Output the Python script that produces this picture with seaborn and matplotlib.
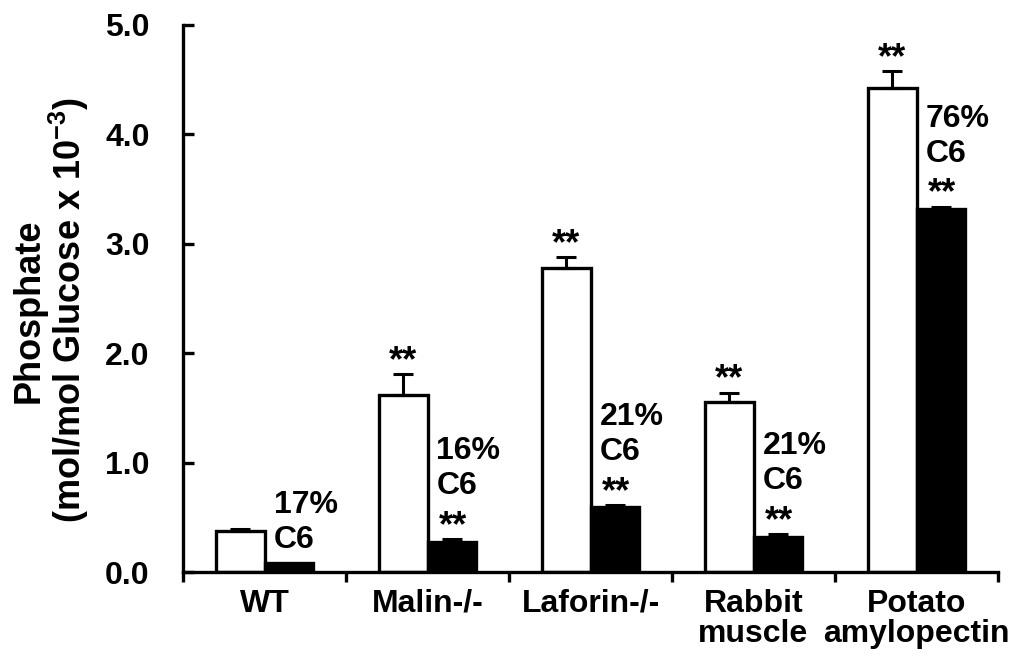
import matplotlib
matplotlib.use("Agg")
import matplotlib.pyplot as plt
import seaborn as sns
import pandas as pd
import numpy as np
from matplotlib.ticker import FixedLocator

groups = ['WT', 'Malin-/-', 'Laforin-/-', 'Rabbit\nmuscle', 'Potato\namylopectin']
total = [0.375, 1.62, 2.78, 1.55, 4.42]
total_err = [0.02, 0.19, 0.10, 0.09, 0.16]
c6 = [0.08, 0.27, 0.59, 0.32, 3.32]
c6_err = [0.0, 0.03, 0.02, 0.03, 0.02]
c6_pct = ['17%', '16%', '21%', '21%', '76%']
total_sig = ['', '**', '**', '**', '**']
c6_sig = ['', '**', '**', '**', '**']

sns.set_theme(style="ticks")
plt.rcParams['font.family'] = ['Liberation Sans', 'DejaVu Sans']
plt.rcParams['font.weight'] = 'bold'
plt.rcParams['mathtext.fontset'] = 'custom'
plt.rcParams['mathtext.bf'] = 'Liberation Sans:bold'
plt.rcParams['mathtext.rm'] = 'Liberation Sans:bold'
plt.rcParams['mathtext.default'] = 'bf'
for k in ['text.color', 'axes.labelcolor', 'xtick.color', 'ytick.color', 'axes.edgecolor']:
    plt.rcParams[k] = 'black'

df = pd.DataFrame({
    'group': groups * 2,
    'kind': ['total'] * len(groups) + ['C6'] * len(groups),
    'value': total + c6,
})

fig = plt.figure(figsize=(10.14, 6.56), dpi=100)
ax = fig.add_axes([183 / 1014, 1 - 572 / 656, (998 - 183) / 1014, (572 - 25) / 656])

sns.barplot(data=df, x='group', y='value', hue='kind', order=groups,
            hue_order=['total', 'C6'], palette={'total': 'white', 'C6': 'black'},
            edgecolor='black', linewidth=2.4, width=0.6, errorbar=None,
            legend=False, ax=ax)

FS = 23
FS_STAR = 26
PX = 0.72  # points per pixel at 100 dpi
white_bars = ax.containers[0]
black_bars = ax.containers[1]
for i in range(len(groups)):
    wb = white_bars[i]
    bb = black_bars[i]
    wx = wb.get_x() + wb.get_width() / 2
    bx = bb.get_x() + bb.get_width() / 2
    ax.errorbar([wx], [total[i]], yerr=[[0], [total_err[i]]], fmt='none',
                ecolor='black', elinewidth=2.2, capsize=7, capthick=2.2, zorder=1)
    if c6_err[i] > 0:
        ax.errorbar([bx], [c6[i]], yerr=[[0], [c6_err[i]]], fmt='none',
                    ecolor='black', elinewidth=2.2, capsize=7, capthick=2.2, zorder=1)
    if total_sig[i]:
        ax.annotate(total_sig[i], xy=(wx, total[i] + total_err[i]),
                    xytext=(0, 3 * PX), textcoords='offset points', ha='center',
                    va='baseline', fontsize=FS_STAR, fontweight='bold')
    yc = c6[i] + c6_err[i]
    xl = bb.get_x()
    if c6_sig[i]:
        ax.annotate(c6_sig[i], xy=(xl, yc), xytext=(11 * PX, 3 * PX),
                    textcoords='offset points', ha='left', va='baseline',
                    fontsize=FS_STAR, fontweight='bold')
        base = 45
    else:
        base = 15
    ax.annotate('C6', xy=(xl, yc), xytext=(9 * PX, base * PX),
                textcoords='offset points', ha='left', va='baseline',
                fontsize=FS, fontweight='bold')
    ax.annotate(c6_pct[i], xy=(xl, yc), xytext=(9 * PX, (base + 35) * PX),
                textcoords='offset points', ha='left', va='baseline',
                fontsize=FS, fontweight='bold')

ax.set_ylim(0, 5.0)
ax.set_xlim(-0.5, len(groups) - 0.5)
yt = np.arange(0, 5.01, 1.0)
ax.set_yticks(yt)
ax.set_yticklabels([f'{v:.1f}' for v in yt], fontsize=FS, fontweight='bold')
ax.set_xticks(range(len(groups)))
ax.set_xticklabels(groups, fontsize=FS, fontweight='bold', linespacing=1.0)
ax.xaxis.set_minor_locator(FixedLocator(np.arange(-0.5, len(groups), 1.0)))
ax.tick_params(axis='x', which='major', length=0, pad=12)
ax.tick_params(axis='x', which='minor', length=7, width=2.4, direction='out')
ax.tick_params(axis='y', which='major', length=8, width=2.4, direction='in', pad=24)
for s in ['top', 'right']:
    ax.spines[s].set_visible(False)
for s in ['left', 'bottom']:
    ax.spines[s].set_linewidth(2.4)
    ax.spines[s].set_color('black')
ax.set_xlabel('')
ax.set_ylabel('Phosphate\n(mol/mol Glucose x 10$^{-3}$)', fontsize=26,
              fontweight='bold', labelpad=8, linespacing=1.0)
ax.yaxis.set_label_coords(-0.1125, 0.478)

fig.savefig('out.png', dpi=100)
